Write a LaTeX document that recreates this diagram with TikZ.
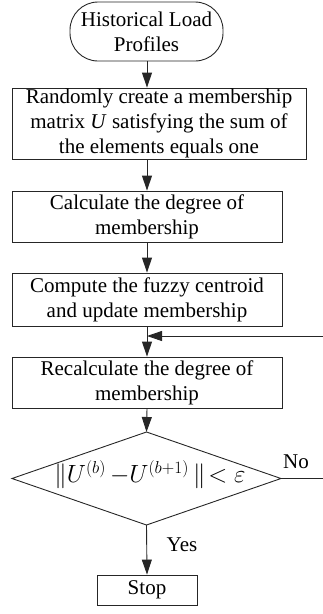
\documentclass[tikz,border=0pt]{standalone}
\usepackage{fontspec}
\setmainfont{Liberation Serif}
\usetikzlibrary{arrows.meta}
\begin{document}
\begin{tikzpicture}[x=1pt,y=-1pt,
  every node/.style={font=\fontsize{21}{25}\selectfont, align=center, inner sep=0pt},
  procbox/.style={draw, line width=0.9pt, color=black!85, text=black},
  arr/.style={line width=0.9pt, color=black!85, -{Triangle[length=15pt,width=10pt]}},
  ln/.style={line width=0.9pt, color=black!85}]
\useasboundingbox (0,0) rectangle (322,614);
\node[procbox, rounded corners=28pt, minimum width=153pt, minimum height=59pt] (start) at (146.5,31.5) {Historical Load\\Profiles};
\node[procbox, minimum width=294pt, minimum height=71pt] (b1) at (159,123.5) {Randomly create a membership\\matrix \textit{U} satisfying the sum of\\the elements equals one};
\node[procbox, minimum width=270pt, minimum height=51pt] (b2) at (147,216.5) {Calculate the degree of\\membership};
\node[procbox, minimum width=270pt, minimum height=53pt] (b3) at (147,299.5) {Compute the fuzzy centroid\\and update membership};
\node[procbox, minimum width=270pt, minimum height=51pt] (b4) at (147,382.5) {Recalculate the degree of\\membership};
\coordinate (dt) at (146.5,432);
\coordinate (dl) at (12,478.5);
\coordinate (dr) at (281,478.5);
\coordinate (db) at (146.5,525);
\draw[ln] (dt) -- (dr) -- (db) -- (dl) -- cycle;
\node (cond) at (150,475) {\fontsize{26}{30}\selectfont$\|U^{(b)}\,{-}U^{(b+1)}\,\|\!<\varepsilon$};
\node[procbox, minimum width=100pt, minimum height=30pt] (stop) at (147,590) {Stop};
\node (no) at (296,462) {No};
\node (yes) at (182,545) {Yes};
\coordinate (fb) at (147,336);
\coordinate (loop) at (340,478.5);
\draw[arr] (start.south -| b2.north) -- (b1.north -| b2.north);
\draw[arr] (b1.south -| b2.south) -- (b2.north);
\draw[arr] (b2.south) -- (b3.north);
\draw[arr] (b3.south) -- (b4.north);
\draw[arr] (b4.south) -- (dt);
\draw[arr] (db) -- (stop.north);
\draw[arr] (dr) -- (loop) |- (fb);
\end{tikzpicture}
\end{document}
